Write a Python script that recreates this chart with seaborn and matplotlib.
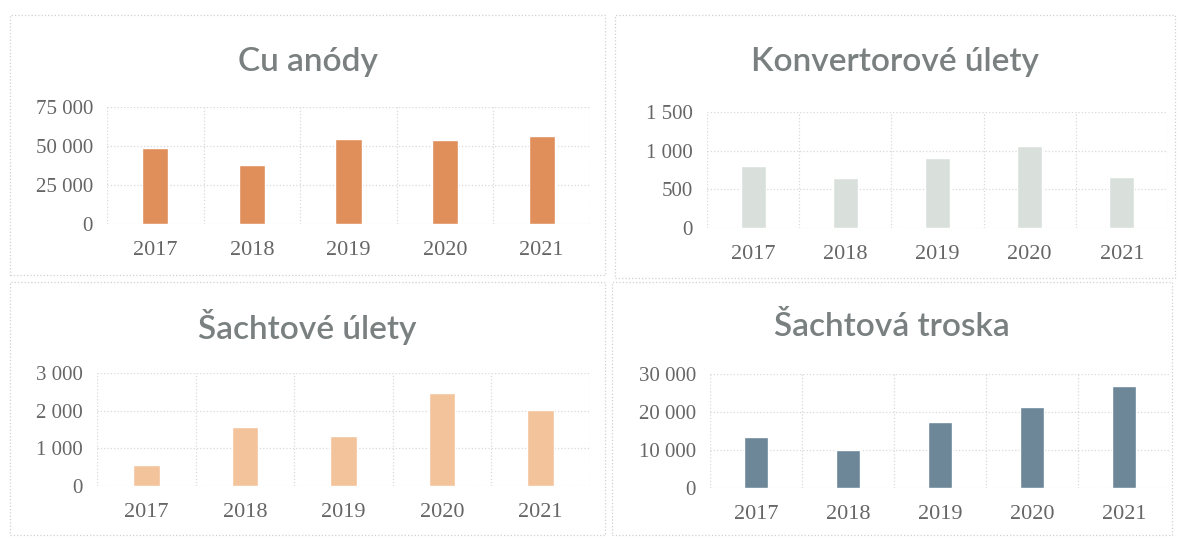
import matplotlib.pyplot as plt
import matplotlib.patches as patches
from matplotlib.ticker import FuncFormatter, FixedLocator
import seaborn as sns
import pandas as pd

roky = ['2017', '2018', '2019', '2020', '2021']
cu_anody = [48600, 38000, 54400, 54000, 56100]
konvertorove_ulety = [800, 643, 909, 1059, 656]
sachtove_ulety = [566, 1566, 1319, 2478, 2018]
sachtova_troska = [13500, 10100, 17500, 21300, 26900]

nazvy = ['Cu anódy', 'Konvertorové úlety', 'Šachtové úlety', 'Šachtová troska']
hodnoty = [cu_anody, konvertorove_ulety, sachtove_ulety, sachtova_troska]
ymax = [75000, 1500, 3000, 30000]
ykrok = [25000, 500, 1000, 10000]
barvy = ['#E08F5A', '#D9E0DC', '#F3C39B', '#6D8798']

W, H = 1183, 538
# plocha grafu v pixelech: left, right, top, bottom
plochy = [(107, 590, 107, 224), (707, 1168, 112, 228),
          (97, 590, 373, 486), (710, 1170, 374, 488)]
panely = [(10, 605, 15, 275), (615, 1175, 15, 278),
          (10, 605, 282, 535), (612, 1172, 282, 535)]

sns.set_style('white')
plt.rcParams['font.family'] = ['Liberation Serif', 'DejaVu Serif']

fig = plt.figure(figsize=(W / 100, H / 100), dpi=100)
fig.patch.set_facecolor('white')

fmt = FuncFormatter(lambda v, p: f'{int(v):,}'.replace(',', ' '))

for i in range(4):
    l, r, t, b = plochy[i]
    ax = fig.add_axes([l / W, 1 - b / H, (r - l) / W, (b - t) / H])
    df = pd.DataFrame({'rok': roky, 'hodnota': hodnoty[i]})
    sns.barplot(data=df, x='rok', y='hodnota', color=barvy[i], width=0.27,
                saturation=1, ax=ax, zorder=3)
    ax.set_xlim(-0.5, 4.5)
    ax.set_ylim(0, ymax[i])
    ax.set_yticks(range(0, ymax[i] + 1, ykrok[i]))
    ax.yaxis.set_major_formatter(fmt)
    ax.xaxis.set_minor_locator(FixedLocator([-0.5, 0.5, 1.5, 2.5, 3.5, 4.5]))
    ax.grid(axis='y', which='major', color='#d9d9d9', linestyle=':', linewidth=0.9, zorder=0)
    ax.grid(axis='x', which='minor', color='#d9d9d9', linestyle=':', linewidth=0.9, zorder=0)
    ax.grid(axis='x', which='major', visible=False)
    for s in ax.spines.values():
        s.set_visible(False)
    ax.tick_params(axis='both', which='both', length=0, labelcolor='#666666')
    ax.tick_params(axis='x', pad=12, labelsize=16)
    ax.tick_params(axis='y', pad=10, labelsize=15)
    ax.set_xlabel('')
    ax.set_ylabel('')

    pl, pr, pt, pb = panely[i]
    fig.patches.append(patches.Rectangle((pl / W, 1 - pb / H), (pr - pl) / W, (pb - pt) / H,
                                         transform=fig.transFigure, fill=False,
                                         edgecolor='#d0d0d0', linestyle=':', linewidth=0.9))
    ty = 62 if i < 2 else 327
    fig.text((pl + pr) / 2 / W, 1 - ty / H, nazvy[i], ha='center', va='center',
             fontsize=24, color='#7a8080', weight='semibold', family=['Lato', 'DejaVu Sans'])

fig.savefig('out.png', dpi=100, facecolor='white')
